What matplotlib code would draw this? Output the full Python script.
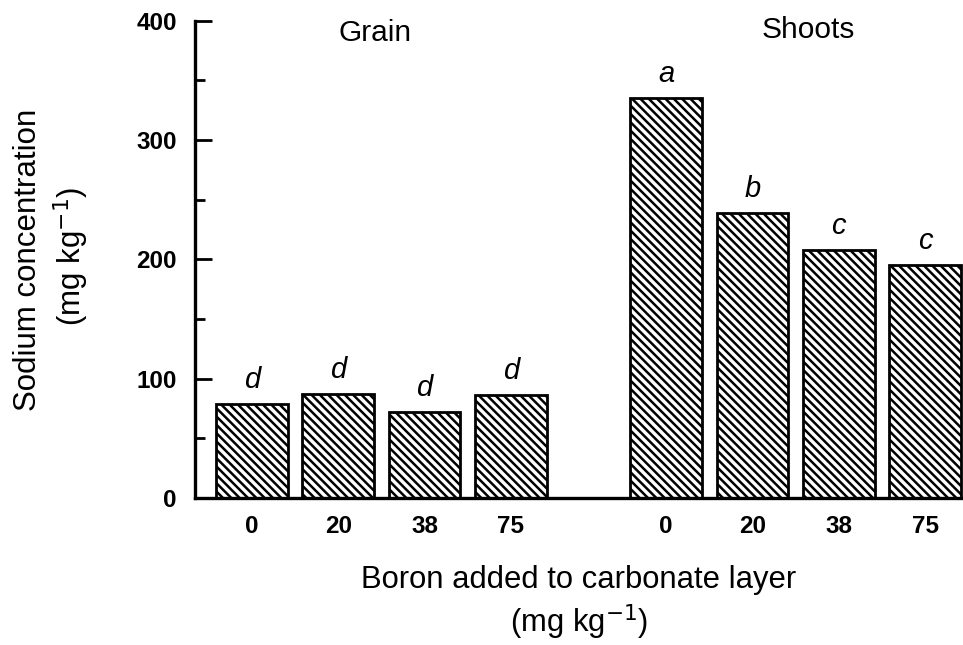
import matplotlib
matplotlib.use('Agg')
import matplotlib.pyplot as plt
import numpy as np

# data
boron_levels = ['0', '20', '38', '75']
grain_na = [79, 87, 72, 86]
shoots_na = [335, 239, 208, 195]
grain_letters = ['d', 'd', 'd', 'd']
shoots_letters = ['a', 'b', 'c', 'c']

plt.rcParams['font.family'] = ['Liberation Sans', 'DejaVu Sans']
plt.rcParams['hatch.linewidth'] = 1.8

fig = plt.figure(figsize=(9.63, 6.45), dpi=100)
ax = fig.add_axes([0.2025, 0.228, 0.7975, 0.74])

x_grain = np.arange(4)
x_shoots = np.arange(4) + 4.8
xs = np.concatenate([x_grain, x_shoots])
vals = grain_na + shoots_na
letters = grain_letters + shoots_letters

ax.bar(xs, vals, width=0.83, facecolor='white', edgecolor='black',
       linewidth=2, hatch='\\\\\\\\', zorder=2)

for x, v, l in zip(xs, vals, letters):
    ax.text(x, v + 20, l, ha='center', va='center', fontsize=21, style='italic')

ax.text(1.43, 390, 'Grain', ha='center', va='center', fontsize=21.5)
ax.text(6.45, 392, 'Shoots', ha='center', va='center', fontsize=21.5)

ax.set_xlim(-0.66, 8.24)
ax.set_ylim(0, 400)
ax.set_xticks(xs)
ax.set_xticklabels(boron_levels * 2, fontsize=17.5, fontweight='bold')
ax.set_yticks([0, 100, 200, 300, 400])
ax.set_yticks(np.arange(50, 400, 100), minor=True)
ax.set_yticklabels(['0', '100', '200', '300', '400'], fontsize=17.5, fontweight='bold')
ax.tick_params(axis='x', length=0, pad=12)
ax.tick_params(axis='y', which='major', direction='in', length=12, width=2, pad=13)
ax.tick_params(axis='y', which='minor', direction='in', length=7, width=2)

for s in ['top', 'right']:
    ax.spines[s].set_visible(False)
ax.spines['left'].set_linewidth(2.4)
ax.spines['bottom'].set_linewidth(2.4)

fig.text(0.029, 0.597, 'Sodium concentration', rotation=90, ha='center', va='center', fontsize=22.5)
fig.text(0.074, 0.603, '(mg kg$^{-1}$)', rotation=90, ha='center', va='center', fontsize=22.5)
fig.text(0.601, 0.101, 'Boron added to carbonate layer', ha='center', va='center', fontsize=22.3)
fig.text(0.601, 0.036, '(mg kg$^{-1}$)', ha='center', va='center', fontsize=22.3)

fig.savefig('out.png', dpi=100, facecolor='white')
